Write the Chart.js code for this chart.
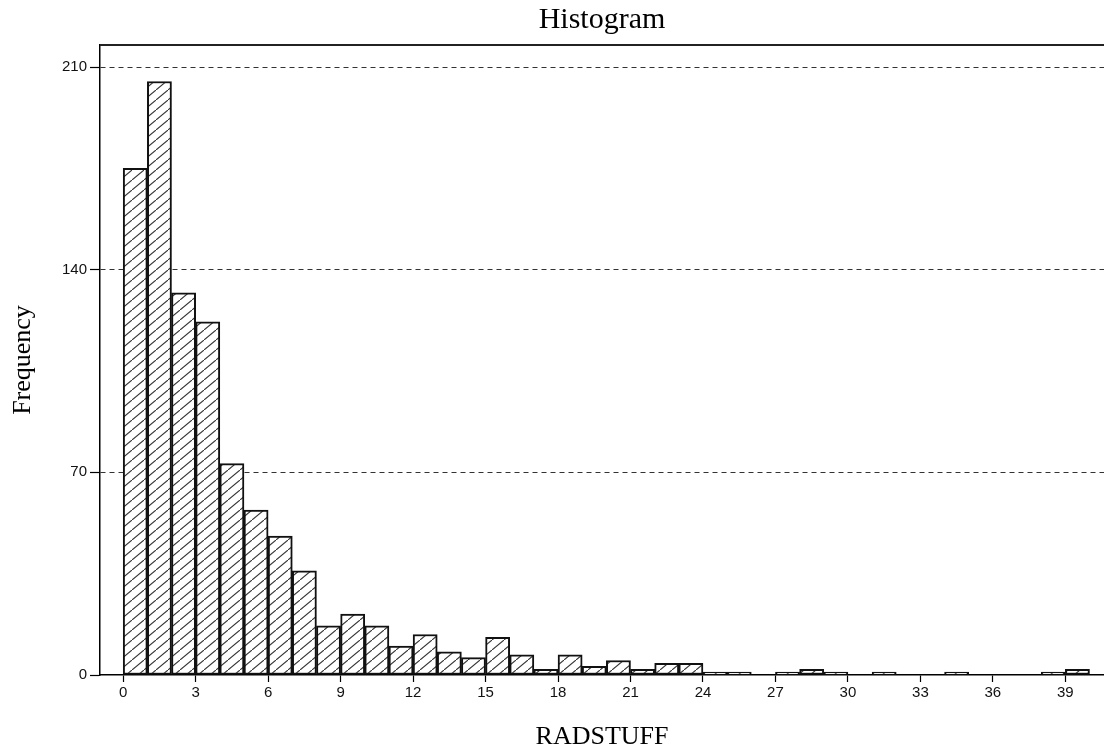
<!DOCTYPE html>
<html>
<head>
<meta charset="utf-8">
<title>Histogram</title>
<script src="https://cdn.jsdelivr.net/npm/chart.js@4.4.1/dist/chart.umd.min.js"></script>
<style>
  html, body { margin: 0; padding: 0; background: #fff; }
  #wrap { width: 1104px; height: 750px; }
</style>
</head>
<body>
<div id="wrap"><canvas id="histChart" width="1104" height="750"></canvas></div>
<script>
// Bin start values, each bin is 1 unit wide
const binStarts = [0, 1, 2, 3, 4, 5, 6, 7, 8, 9, 10, 11, 12, 13, 14, 15, 16, 17, 18, 19,
                   20, 21, 22, 23, 24, 25, 26, 27, 28, 29, 30, 31, 32, 33, 34, 35, 36, 37, 38, 39];
// Frequency per bin
const frequencies = [175, 205, 132, 122, 73, 57, 48, 36, 17, 21, 17, 10, 14, 8, 6, 13, 7, 2, 7, 3,
                     5, 2, 4, 4, 1, 1, 0, 1, 2, 1, 0, 1, 0, 0, 1, 0, 0, 0, 1, 2];
const xTicks = [0, 3, 6, 9, 12, 15, 18, 21, 24, 27, 30, 33, 36, 39];
const yTicks = [0, 70, 140, 210];
const chartTitle = 'Histogram';

// Diagonal hatch fill like the original bars
function makeHatch() {
    const tile = document.createElement('canvas');
    tile.width = 12;
    tile.height = 10;
    const c = tile.getContext('2d');
    c.fillStyle = '#fff';
    c.fillRect(0, 0, 12, 10);
    c.strokeStyle = '#333';
    c.lineWidth = 1.1;
    c.beginPath();
    c.moveTo(-1.2, 11);
    c.lineTo(13.2, -1);
    c.stroke();
    return c.createPattern(tile, 'repeat');
}

// Top frame line of the plot box, and the title centred over the plot area
const frameAndTitle = {
    id: 'frameAndTitle',
    afterDraw(chart) {
        const { ctx, chartArea } = chart;
        ctx.save();
        ctx.strokeStyle = '#222';
        ctx.lineWidth = 2;
        ctx.beginPath();
        ctx.moveTo(chartArea.left, chartArea.top);
        ctx.lineTo(chartArea.right, chartArea.top);
        ctx.stroke();

        ctx.fillStyle = '#000';
        ctx.font = '30px "Liberation Serif"';
        ctx.textAlign = 'center';
        ctx.textBaseline = 'middle';
        ctx.fillText(chartTitle, (chartArea.left + chartArea.right) / 2, 20);
        ctx.restore();
    }
};

const ctx = document.getElementById('histChart');

new Chart(ctx, {
    type: 'bar',
    data: {
        datasets: [{
            label: 'Frequency',
            data: binStarts.map((s, i) => ({ x: s + 0.5, y: frequencies[i] })),
            backgroundColor: makeHatch(),
            borderColor: '#111',
            borderWidth: 2,
            borderSkipped: false,
            barPercentage: 1,
            categoryPercentage: 1
        }]
    },
    options: {
        responsive: false,
        animation: false,
        layout: { padding: { top: 45, left: 0, right: 0, bottom: 0 } },
        plugins: {
            legend: { display: false },
            tooltip: { enabled: false },
            title: { display: false }
        },
        scales: {
            x: {
                type: 'linear',
                min: -0.96,
                max: 40.6,
                offset: false,
                afterBuildTicks: s => { s.ticks = xTicks.map(v => ({ value: v })); },
                afterFit: s => { s.height = 75; },
                grid: {
                    offset: false,
                    drawOnChartArea: false,
                    drawTicks: true,
                    tickLength: 7,
                    tickColor: '#000',
                    tickWidth: 1.2
                },
                border: { display: true, color: '#000', width: 1.5 },
                ticks: {
                    color: '#111',
                    font: { family: 'Liberation Sans', size: 15 },
                    padding: 2,
                    maxRotation: 0,
                    autoSkip: false
                },
                title: {
                    display: true,
                    text: 'RADSTUFF',
                    color: '#000',
                    font: { family: 'Liberation Serif', size: 26, lineHeight: 1 },
                    padding: { top: 0, bottom: 0 }
                }
            },
            y: {
                min: 0,
                max: 217.6,
                afterBuildTicks: s => { s.ticks = yTicks.map(v => ({ value: v })); },
                afterFit: s => { s.width = 100; },
                grid: {
                    color: c => (c.tick && c.tick.value === 0) ? 'rgba(0,0,0,0)' : '#333',
                    lineWidth: 1,
                    drawTicks: true,
                    tickLength: 10,
                    tickColor: '#000',
                    tickWidth: 1.2
                },
                border: { display: true, color: '#000', width: 1.5, dash: [5, 4] },
                ticks: {
                    color: '#111',
                    font: { family: 'Liberation Sans', size: 15 },
                    padding: 3
                },
                title: {
                    display: true,
                    text: 'Frequency',
                    color: '#000',
                    font: { family: 'Liberation Serif', size: 26, lineHeight: 1 },
                    padding: { top: 10, bottom: 0 }
                }
            }
        }
    },
    plugins: [frameAndTitle]
});
</script>
</body>
</html>
